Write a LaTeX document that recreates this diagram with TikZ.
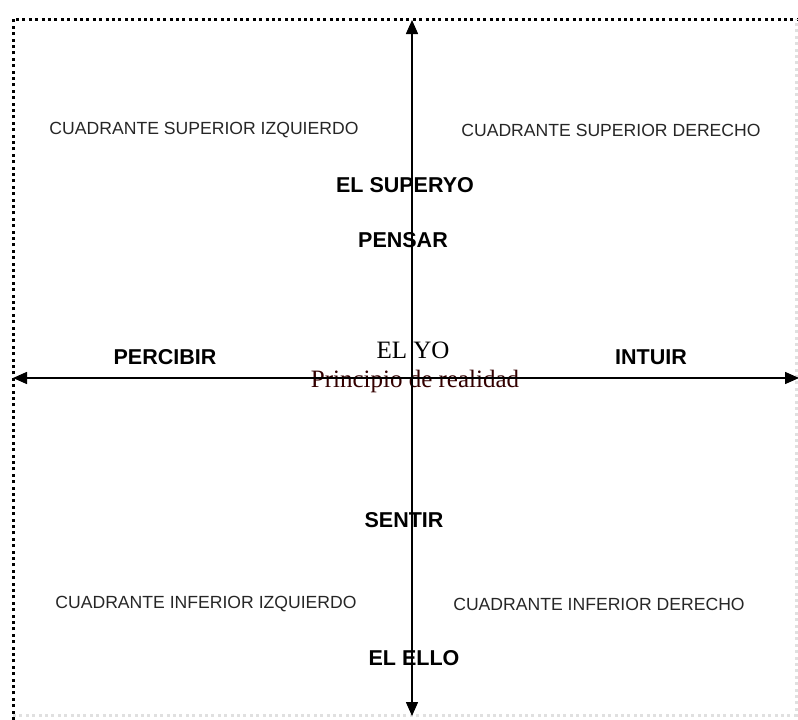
\documentclass[tikz,border=0pt]{standalone}
\usepackage{fontspec}
\setmainfont{Liberation Serif}
\setsansfont{Liberation Sans}
\usetikzlibrary{arrows.meta}
\begin{document}
\begin{tikzpicture}[x=1pt,y=-1pt,
  frame/.style={line width=3pt,dash pattern=on 3pt off 3.4pt},
  axis/.style={line width=1.5pt,{Triangle[length=14pt,width=12pt]}-{Triangle[length=14pt,width=12pt]}},
  quad/.style={font=\sffamily\fontsize{17.6}{20}\selectfont,text=black!85,inner sep=0pt},
  func/.style={font=\sffamily\bfseries\fontsize{21.5}{24}\selectfont,inner sep=0pt},
  ego/.style={font=\rmfamily\fontsize{25}{28}\selectfont,inner sep=0pt}]
\useasboundingbox (0,0) rectangle (798,720);
% dotted frame
\draw[frame] (13,720) -- (13,19) -- (798,19);
\draw[frame,black!12] (13,715) -- (796,715) -- (796,19);
% axis end points
\coordinate (top) at (412,20);
\coordinate (bot) at (412,716);
\coordinate (lft) at (13,378);
\coordinate (rgt) at (799,378);
% quadrant labels
\node[quad] (csi) at (204,130) {CUADRANTE SUPERIOR IZQUIERDO};
\node[quad] (csd) at (611,130) {CUADRANTE SUPERIOR DERECHO};
\node[quad] (cii) at (206,604) {CUADRANTE INFERIOR IZQUIERDO};
\node[quad] (cid) at (599,604) {CUADRANTE INFERIOR DERECHO};
% functions
\node[func] (superyo) at (405,185) {EL SUPERYO};
\node[func] (pensar) at (403,240) {PENSAR};
\node[func] (percibir) at (165,357) {PERCIBIR};
\node[func] (intuir) at (651,357) {INTUIR};
\node[func] (sentir) at (404,520) {SENTIR};
\node[func] (ello) at (414,658) {EL ELLO};
% ego
\node[ego] (yo) at (413,350) {EL YO};
\node[ego,text=black!80!red] (real) at (415,381) {Principio de realidad};
% axes
\draw[axis] (bot) -- (top);
\draw[axis] (lft) -- (rgt);
\end{tikzpicture}
\end{document}
